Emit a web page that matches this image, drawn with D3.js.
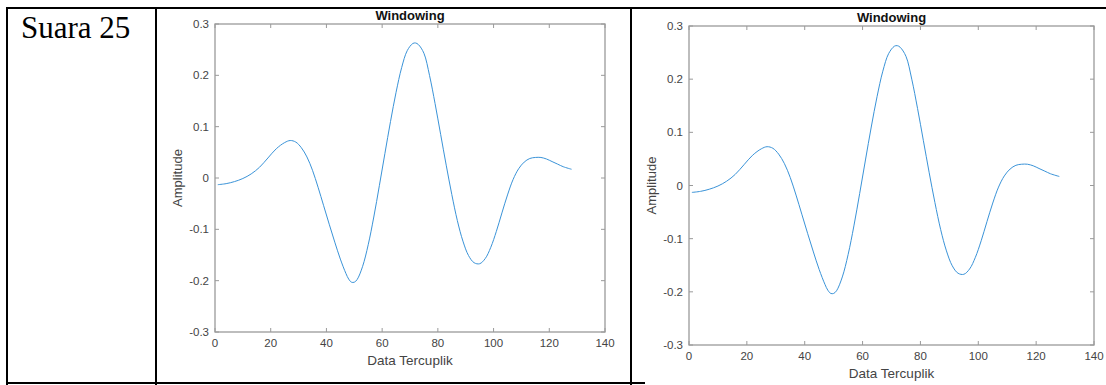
<!DOCTYPE html>
<html><head><meta charset="utf-8">
<script src="https://cdn.jsdelivr.net/npm/d3@7"></script>
<style>
body{margin:0;background:#fff;}
svg{display:block;}
</style></head>
<body>
<svg id="c" width="1106" height="385"></svg>
<script>
// Data (sample index vs amplitude)
const sampleIdx = [1,4,7,10,13,16,19,22,25,27,29,31,33,35,37,39,41,43,45,47,48,49,50,51,53,55,57,59,61,63,65,67,69,71,72,73,75,77,79,81,83,85,87,89,91,93,95,97,99,101,103,105,107,109,111,113,115,117,119,121,123,125,128];
const amplitude = [-0.013,-0.011,-0.007,-0.001,0.008,0.021,0.039,0.057,0.069,0.073,0.070,0.059,0.041,0.015,-0.018,-0.054,-0.090,-0.125,-0.158,-0.186,-0.197,-0.203,-0.203,-0.198,-0.172,-0.130,-0.076,-0.015,0.048,0.110,0.167,0.215,0.248,0.262,0.263,0.260,0.243,0.200,0.145,0.085,0.025,-0.032,-0.083,-0.123,-0.151,-0.165,-0.167,-0.157,-0.135,-0.104,-0.068,-0.033,-0.003,0.018,0.031,0.038,0.040,0.040,0.037,0.032,0.027,0.022,0.017];
const xTicks = [0,20,40,60,80,100,120,140];
const yTicks = [-0.3,-0.2,-0.1,0,0.1,0.2,0.3];
const chartTitle = "Windowing";
const xLabel = "Data Tercuplik";
const yLabel = "Amplitude";
const cellLabel = "Suara 25";

const svg = d3.select("#c");
const data = sampleIdx.map((x,i)=>({x, y: amplitude[i]}));

// table borders
const tb = svg.append("g").attr("stroke","#000").attr("stroke-width",2);
tb.append("line").attr("x1",6).attr("x2",1106).attr("y1",8).attr("y2",8);
tb.append("line").attr("x1",7).attr("x2",7).attr("y1",7).attr("y2",385);
tb.append("line").attr("x1",156).attr("x2",156).attr("y1",7).attr("y2",385);
tb.append("line").attr("x1",631).attr("x2",631).attr("y1",7).attr("y2",385);
tb.append("line").attr("x1",6).attr("x2",645).attr("y1",383).attr("y2",383);

svg.append("text").attr("x",21).attr("y",38)
  .attr("font-family","Liberation Serif, Times New Roman, serif")
  .attr("font-size",31).attr("fill","#000").text(cellLabel);

function drawPlot(L,R,T,B){
  const x = d3.scaleLinear().domain([0,140]).range([L,R]);
  const y = d3.scaleLinear().domain([-0.3,0.3]).range([B,T]);
  const g = svg.append("g");
  const font = "Liberation Sans, Arial, sans-serif";
  const axCol = "#9a9a9a", txtCol = "#444";
  g.append("rect").attr("x",L).attr("y",T).attr("width",R-L).attr("height",B-T)
    .attr("fill","none").attr("stroke",axCol).attr("stroke-width",1.3);
  const tl = 4;
  xTicks.forEach(t=>{
    g.append("line").attr("x1",x(t)).attr("x2",x(t)).attr("y1",B).attr("y2",B-tl).attr("stroke",axCol);
    g.append("line").attr("x1",x(t)).attr("x2",x(t)).attr("y1",T).attr("y2",T+tl).attr("stroke",axCol);
    g.append("text").attr("x",x(t)).attr("y",B+15).attr("text-anchor","middle")
      .attr("font-family",font).attr("font-size",11.5).attr("fill",txtCol).text(String(t));
  });
  yTicks.forEach(t=>{
    g.append("line").attr("x1",L).attr("x2",L+tl).attr("y1",y(t)).attr("y2",y(t)).attr("stroke",axCol);
    g.append("line").attr("x1",R).attr("x2",R-tl).attr("y1",y(t)).attr("y2",y(t)).attr("stroke",axCol);
    g.append("text").attr("x",L-6).attr("y",y(t)+4).attr("text-anchor","end")
      .attr("font-family",font).attr("font-size",11.5).attr("fill",txtCol).text(String(+t.toFixed(1)));
  });
  const line = d3.line().x(d=>x(d.x)).y(d=>y(d.y)).curve(d3.curveCatmullRom.alpha(0.5));
  g.append("path").datum(data).attr("d",line).attr("fill","none")
    .attr("stroke","#3a93d8").attr("stroke-width",1);
  g.append("text").attr("x",(L+R)/2).attr("y",T-4).attr("text-anchor","middle")
    .attr("font-family",font).attr("font-weight","bold").attr("font-size",13).attr("fill","#111").text(chartTitle);
  g.append("text").attr("x",(L+R)/2).attr("y",B+33).attr("text-anchor","middle")
    .attr("font-family",font).attr("font-size",13.5).attr("fill",txtCol).text(xLabel);
  g.append("text").attr("transform",`translate(${L-33},${(T+B)/2}) rotate(-90)`)
    .attr("text-anchor","middle").attr("font-family",font).attr("font-size",13)
    .attr("fill",txtCol).text(yLabel);
}
drawPlot(215,605,24,332);
drawPlot(689,1094,26,345);
</script>
</body></html>
